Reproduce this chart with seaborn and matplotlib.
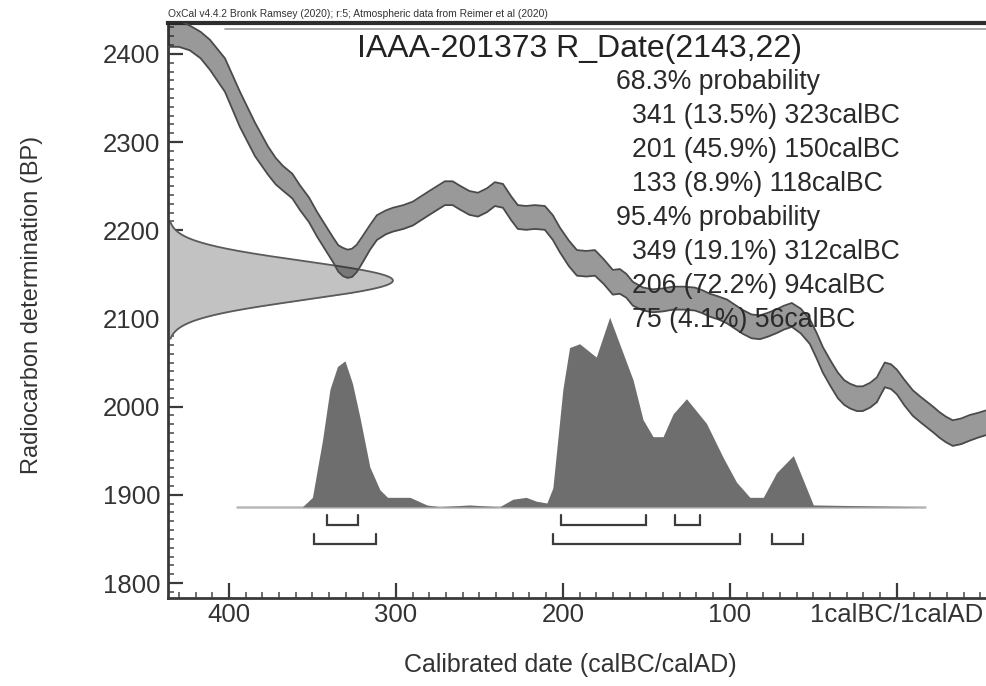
import numpy as np
import pandas as pd
import matplotlib
matplotlib.use("Agg")
import matplotlib.pyplot as plt
from matplotlib.ticker import FixedLocator, MultipleLocator
import seaborn as sns

# Radiocarbon date
lab_code = "IAAA-201373"
r_date_bp = 2143
r_date_err = 22

# Calibration curve: calBC (negative = AD), BP, 1 sigma
curve_bc = [436.5, 430.0, 423.4, 417.0, 411.4, 402.4, 393.4, 384.4, 376.6, 372.0,
            367.7, 362.0, 357.5, 352.0, 347.3, 342.0, 337.7, 334.5, 331.7, 329.0,
            326.3, 323.5, 320.4, 315.5, 311.4, 306.0, 301.8, 295.5, 289.8, 280.0,
            270.7, 266.0, 261.7, 256.0, 250.9, 245.5, 240.7, 235.9, 231.0, 227.0,
            222.0, 216.8, 210.8, 206.0, 201.8, 196.5, 191.6, 186.0, 180.8, 175.5,
            170.1, 165.9, 162.0, 158.1, 152.0, 146.1, 140.0, 134.1, 127.5, 121.0,
            116.5, 112.0, 107.0, 101.8, 97.0, 92.2, 87.0, 82.0, 77.0, 71.9,
            67.5, 62.9, 57.5, 52.1, 48.0, 44.3, 39.5, 35.3, 31.5, 28.1,
            24.0, 20.4, 16.0, 12.0, 9.5, 7.2, 3.5, 0.0, -4.5, -9.6,
            -14.0, -18.0, -22.0, -25.7, -29.5, -33.5, -38.5, -43.7, -48.8, -53.9]
curve_bp = [2425, 2423, 2418, 2410, 2399, 2376, 2337, 2303, 2279, 2267,
            2259, 2250, 2237, 2223, 2207, 2191, 2178, 2168, 2164, 2162,
            2163, 2168, 2177, 2192, 2203, 2209, 2212, 2215, 2219, 2231,
            2242, 2242, 2237, 2231, 2229, 2234, 2241, 2239, 2225, 2215,
            2214, 2215, 2214, 2203, 2189, 2174, 2163, 2162, 2163, 2153,
            2141, 2142, 2137, 2128, 2122, 2120, 2121, 2123, 2123, 2122,
            2119, 2115, 2112, 2108, 2102, 2096, 2091, 2090, 2093, 2097,
            2101, 2104, 2097, 2085, 2069, 2053, 2037, 2024, 2016, 2012,
            2009, 2009, 2013, 2019, 2028, 2036, 2034, 2028, 2016, 2004,
            1997, 1991, 1985, 1979, 1974, 1970, 1972, 1976, 1979, 1982]
curve_err = [17, 15, 14, 15, 17, 19, 20, 19, 16, 15,
             14, 14, 14, 14, 14, 14, 14, 15, 16, 16,
             16, 15.5, 15, 14, 14, 13.5, 13.5, 13.5, 13.5, 13.5,
             13.5, 13.5, 13.5, 13.5, 13.5, 13.5, 13.5, 13.5, 13.5, 13.5,
             13.5, 13.5, 13.5, 14, 14, 14.5, 14.5, 14.5, 14.5, 14,
             14, 14, 13.5, 13.5, 13, 13, 13, 13, 13, 13,
             13, 13, 13, 13.5, 13.5, 13.5, 13.5, 13.5, 13.5, 13.5,
             13.5, 13.5, 14, 14, 14.5, 14.5, 14.5, 14.5, 14, 14,
             14, 14, 14, 14, 14, 14, 14, 14, 14.5, 14.5,
             14.5, 14.5, 14.5, 14.5, 14.5, 14.5, 14.5, 14.5, 14, 14]

# Calibrated probability (relative to highest point)
post_bc = [395, 356, 350, 344, 339.5, 335, 330.5, 326, 321.5, 315.6, 309.6, 305,
           291.6, 281.5, 274, 256, 238, 230, 222, 216, 209.6, 206, 200, 196,
           190, 180, 172, 158, 152, 146, 140, 134, 126, 114, 104, 96, 88, 80,
           72, 62, 56, 50, -17]
post_prob = [0, 0.0, 0.05, 0.35, 0.62, 0.74, 0.77, 0.65, 0.47, 0.21, 0.09, 0.05,
             0.05, 0.01, 0.0, 0.01, 0.0, 0.04, 0.05, 0.03, 0.02, 0.1, 0.62, 0.84,
             0.86, 0.79, 1.0, 0.67, 0.46, 0.37, 0.37, 0.49, 0.57, 0.44, 0.26, 0.13,
             0.05, 0.05, 0.18, 0.27, 0.14, 0.01, 0]

# Ranges: (from calBC, probability %, to calBC)
range68 = [(341, 13.5, 323), (201, 45.9, 150), (133, 8.9, 118)]
range95 = [(349, 19.1, 312), (206, 72.2, 94), (75, 4.1, 56)]

x_ticks = [400, 300, 200, 100, 0]
x_tick_labels = ["400", "300", "200", "100", "1calBC/1calAD"]
y_ticks = [1800, 1900, 2000, 2100, 2200, 2300, 2400]

W, H = 987, 686


def px(x, y):
    return x / W, 1 - y / H


sns.set_theme(style="white")
plt.rcParams['font.family'] = ['Liberation Sans', 'DejaVu Sans']

fig = plt.figure(figsize=(W / 100, H / 100), dpi=100)
ax = fig.add_axes([168 / W, 1 - 598 / H, (W - 168) / W, (598 - 23) / H])
x_left, x_right = -436.5, 54
ax.set_xlim(x_left, x_right)
ax.set_ylim(1783, 2435)

# R_Date distribution on the y axis
yy = np.linspace(r_date_bp - 3 * r_date_err, r_date_bp + 3 * r_date_err, 300)
g = np.exp(-0.5 * ((yy - r_date_bp) / r_date_err) ** 2)
gx = x_left + 134.7 * g
ax.fill_betweenx(yy, x_left, gx, color='#c2c2c2', lw=0, zorder=1)
ax.plot(gx, yy, color='#5a5a5a', lw=1.3, zorder=2)
ax.plot([x_left, gx[-1]], [yy[-1], yy[-1]], color='#5a5a5a', lw=1.3, zorder=2)

# calibration curve
cdf = pd.DataFrame({'year': -np.array(curve_bc, dtype=float),
                    'bp': curve_bp, 'err': curve_err})
cdf['lo'] = cdf['bp'] - cdf['err']
cdf['hi'] = cdf['bp'] + cdf['err']
ax.fill_between(cdf['year'], cdf['lo'], cdf['hi'], color='#212121', alpha=0.46,
                lw=0, zorder=3)
for col in ['hi', 'lo']:
    sns.lineplot(data=cdf, x='year', y=col, ax=ax, color='#4a4a4a', lw=1.3,
                 zorder=4, solid_joinstyle='round')

# calibrated distribution
base = 1886.4
pdf = pd.DataFrame({'year': -np.array(post_bc, dtype=float), 'p': post_prob})
pdf['y'] = base + 215 * pdf['p']
ax.plot([pdf['year'].min(), pdf['year'].max()], [base, base], color='#b8b8b8',
        lw=1.8, zorder=2)
ax.fill_between(pdf['year'], base, pdf['y'], color='#6e6e6e', lw=0, zorder=3)

# range brackets
for ranges, top, bot in [(range68, 1877.3, 1866.0), (range95, 1855.8, 1844.4)]:
    for a, p, b in ranges:
        ax.plot([-a, -a, -b, -b], [top, bot, bot, top], color='#3c3c3c', lw=1.6,
                solid_joinstyle='miter', zorder=4)

# thin line under the top frame
ax.axhline(2428.3, xmin=(225 - 168) / (W - 168), xmax=1, color='#9a9a9a', lw=1.2)

# axes styling
ax.spines['right'].set_visible(False)
ax.spines['top'].set_linewidth(3)
ax.spines['top'].set_color('#2e2e2e')
for s in ['left', 'bottom']:
    ax.spines[s].set_linewidth(2)
    ax.spines[s].set_color('#3a3a3a')

ax.xaxis.set_major_locator(FixedLocator([-t for t in x_ticks]))
ax.set_xticklabels(x_tick_labels)
ax.xaxis.set_minor_locator(MultipleLocator(10))
ax.yaxis.set_major_locator(FixedLocator(y_ticks))
ax.set_yticklabels([str(t) for t in y_ticks])
ax.yaxis.set_minor_locator(MultipleLocator(10))
ax.tick_params(which='major', direction='in', length=10.8, width=1.6,
               color='#3a3a3a', labelsize=18.5, labelcolor='#333333',
               bottom=True, left=True, top=False, right=False)
ax.tick_params(axis='y', which='major', pad=5.5)
ax.tick_params(axis='x', which='major', pad=3.5)
ax.tick_params(which='minor', direction='in', length=4.5, width=1.2,
               color='#555555', bottom=True, left=True, top=False, right=False)
ax.set_xlabel('')
ax.set_ylabel('')
ax.grid(False)

# texts
fig.text(*px(168, 17), 'OxCal v4.4.2 Bronk Ramsey (2020); r:5; Atmospheric data from Reimer et al (2020)',
         fontsize=7.4, color='#333333', va='baseline', ha='left')
fig.text(*px(357, 57), f'{lab_code} R_Date({r_date_bp},{r_date_err})',
         fontsize=23, color='#222222', va='baseline', ha='left')

lines = [("68.3% probability", 616)]
lines += [(f"{a} ({p}%) {b}calBC", 632) for a, p, b in range68]
lines += [("95.4% probability", 616)]
lines += [(f"{a} ({p}%) {b}calBC", 632) for a, p, b in range95]
for i, (txt, x0) in enumerate(lines):
    fig.text(*px(x0, 89 + 34 * i), txt, fontsize=19.2, color='#2a2a2a',
             va='baseline', ha='left', zorder=10)

fig.text(*px(32, 305), 'Radiocarbon determination (BP)', rotation=90,
         fontsize=17, color='#333333', va='center', ha='center')
fig.text(*px(570, 665), 'Calibrated date (calBC/calAD)', fontsize=18,
         color='#333333', va='center', ha='center')

fig.savefig('out.png', dpi=100)
